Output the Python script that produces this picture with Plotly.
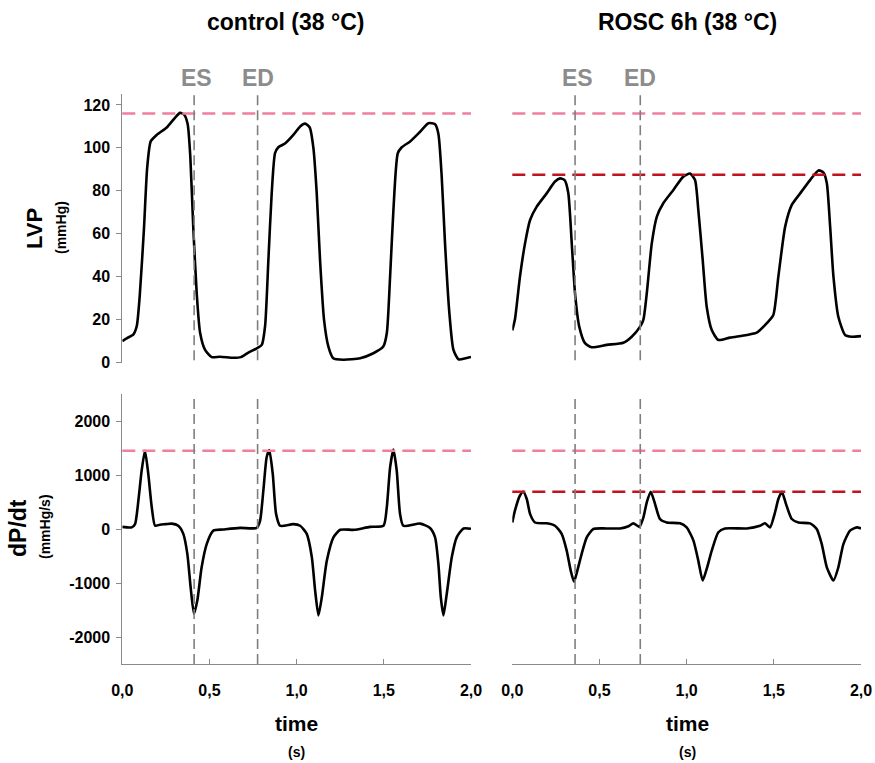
import plotly.graph_objects as go

W, H = 875, 763

# ---------------- data ----------------
ctrl_lvp_t = [0, 0.03, 0.063, 0.083, 0.1, 0.124, 0.143, 0.163, 0.197, 0.255, 0.302, 0.331, 0.355, 0.375,
              0.39, 0.407, 0.427, 0.446, 0.474, 0.513, 0.56, 0.637, 0.68, 0.723, 0.771, 0.8, 0.819, 0.838,
              0.857, 0.876, 0.895, 0.933, 0.981, 1.02, 1.048, 1.075, 1.096, 1.115, 1.134, 1.157, 1.182,
              1.21, 1.268, 1.364, 1.44, 1.497, 1.517, 1.536, 1.555, 1.58, 1.603, 1.651, 1.708, 1.756,
              1.794, 1.813, 1.832, 1.851, 1.876, 1.899, 1.928, 1.97, 2.0]
ctrl_lvp_v = [10, 11.5, 13, 17, 31, 62, 91, 103, 106, 109.5, 114, 116.3, 115.5, 111,
              96, 63, 32, 14, 6, 2.5, 2.7, 2.2, 2.5, 4.6, 6.6, 8.2, 17, 48,
              79, 97.5, 100.3, 102, 106, 110, 111.3, 109.5, 100, 79, 48, 20, 7.4,
              2, 1.3, 2, 4.3, 7.4, 13.6, 40, 71, 97.5, 100.3, 103, 107.5, 111.5,
              111, 106.5, 86.6, 55.5, 23, 6, 1.5, 2, 2.6]

rosc_lvp_t = [0, 0.015, 0.044, 0.073, 0.102, 0.14, 0.197, 0.245, 0.274, 0.3, 0.321, 0.341, 0.36, 0.384,
              0.417, 0.455, 0.542, 0.637, 0.685, 0.733, 0.752, 0.771, 0.8, 0.829, 0.866, 0.924, 0.981,
              1.02, 1.048, 1.067, 1.092, 1.115, 1.144, 1.182, 1.249, 1.345, 1.402, 1.46, 1.497, 1.526,
              1.565, 1.603, 1.651, 1.708, 1.756, 1.785, 1.804, 1.823, 1.842, 1.87, 1.909, 1.947, 2.0]
rosc_lvp_v = [15, 20, 40, 55.5, 66.4, 72.6, 78.8, 84.3, 85.8, 85, 79, 55.5, 32, 16.7,
              9, 7.1, 8.2, 9.2, 12, 16.7, 20, 32, 55.5, 68, 74.2, 80.4, 86.6,
              88, 85, 71, 47.8, 26, 15.1, 10.5, 11.6, 12.8, 13.9, 18.3, 22.1, 40,
              63.3, 73.4, 78.8, 85, 89.5, 88.5, 83.5, 63.3, 40, 21.3, 12.8, 12, 12.3]

ctrl_dpdt_t = [0, 0.054, 0.073, 0.092, 0.111, 0.13, 0.149, 0.169, 0.188, 0.216, 0.25, 0.283, 0.321,
               0.35, 0.373, 0.392, 0.411, 0.43, 0.455, 0.484, 0.522, 0.579, 0.675, 0.771, 0.79, 0.809,
               0.828, 0.843, 0.863, 0.882, 0.905, 0.98, 1.02, 1.058, 1.087, 1.106, 1.125, 1.144, 1.173,
               1.211, 1.25, 1.33, 1.42, 1.498, 1.517, 1.536, 1.555, 1.574, 1.593, 1.612, 1.708, 1.765,
               1.794, 1.813, 1.827, 1.842, 1.861, 1.89, 1.918, 1.957, 2.0]
ctrl_dpdt_v = [40, 30, 90, 520, 1080, 1450, 1020, 400, 60, 80, 90, 100, 60,
               -90, -460, -1080, -1570, -1330, -710, -280, -30, -10, 20, 20, 150, 710,
               1330, 1460, 1020, 280, 60, 90, 60, -90, -520, -1140, -1600, -1270, -590,
               -155, -15, -15, 40, 60, 400, 1140, 1470, 1080, 280, 60, 100, 20,
               -155, -650, -1270, -1600, -1200, -520, -155, 10, 5]

rosc_dpdt_t = [0, 0.015, 0.044, 0.063, 0.083, 0.102, 0.13, 0.197, 0.245, 0.283, 0.312, 0.335, 0.354,
               0.373, 0.398, 0.427, 0.465, 0.54, 0.618, 0.666, 0.694, 0.729, 0.752, 0.771, 0.794, 0.819,
               0.847, 0.886, 0.962, 1.0, 1.039, 1.067, 1.092, 1.115, 1.144, 1.182, 1.22, 1.345, 1.421,
               1.45, 1.478, 1.507, 1.526, 1.546, 1.57, 1.603, 1.641, 1.708, 1.746, 1.775, 1.804, 1.842,
               1.87, 1.899, 1.937, 1.976, 2.0]
rosc_dpdt_v = [120, 340, 620, 690, 555, 280, 120, 105, 60, -90, -400, -770, -975,
               -770, -460, -155, 0, 10, 10, 50, 105, 40, 215, 490, 690, 460,
               185, 120, 105, 30, -215, -590, -955, -740, -400, -60, 10, 10, 60,
               105, 30, 310, 555, 690, 460, 185, 120, 105, 0, -280, -710, -955,
               -710, -280, -30, 30, 10]

panel_titles = ["control (38 °C)", "ROSC 6h (38 °C)"]
es_times = [0.412, 0.36]
ed_times = [0.776, 0.734]
lvp_control_peak = 116
dpdt_control_peak = 1450
lvp_rosc_peak = 87.5
dpdt_rosc_peak = 690

x_tickvals = [0, 0.5, 1.0, 1.5, 2.0]
x_ticktext = ["0,0", "0,5", "1,0", "1,5", "2,0"]
lvp_tickvals = [0, 20, 40, 60, 80, 100, 120]
lvp_ticktext = ["0", "20", "40", "60", "80", "100", "120"]
dpdt_tickvals = [-2000, -1000, 0, 1000, 2000]
dpdt_ticktext = ["-2000", "-1000", "0", "1000", "2000"]

# ---------------- layout geometry ----------------
def px_x(p):
    return p / W

def px_y(p):
    return 1 - p / H

xdomL = [px_x(122.3), px_x(471)]
xdomR = [px_x(512.3), px_x(861)]
ydomTop = [px_y(362.5), px_y(94.2)]
ydomBot = [px_y(664), px_y(394)]

FONT = "Liberation Sans, Arial, sans-serif"
AXIS_COLOR = "#8a8a8a"
PINK = "#ef7f9c"
DARKRED = "#c1121f"
GRAY = "#7f7f7f"

fig = go.Figure()

line_style = dict(color="black", width=2.6, shape="spline", smoothing=0.6)
fig.add_trace(go.Scatter(x=ctrl_lvp_t, y=ctrl_lvp_v, mode="lines", line=line_style, xaxis="x", yaxis="y", showlegend=False))
fig.add_trace(go.Scatter(x=rosc_lvp_t, y=rosc_lvp_v, mode="lines", line=line_style, xaxis="x2", yaxis="y2", showlegend=False))
fig.add_trace(go.Scatter(x=ctrl_dpdt_t, y=ctrl_dpdt_v, mode="lines", line=line_style, xaxis="x3", yaxis="y3", showlegend=False))
fig.add_trace(go.Scatter(x=rosc_dpdt_t, y=rosc_dpdt_v, mode="lines", line=line_style, xaxis="x4", yaxis="y4", showlegend=False))

tickfont = dict(family=FONT, size=16, color="black", weight="bold")

hidden_x = dict(range=[0, 2], visible=False, automargin=False)
hidden_y = dict(visible=False, automargin=False)

xbottom = dict(range=[0, 2], showline=True, linecolor=AXIS_COLOR, linewidth=1, ticks="inside",
               ticklen=5, tickcolor=AXIS_COLOR, tickvals=x_tickvals, ticktext=x_ticktext,
               tickfont=tickfont, showgrid=False, zeroline=False, ticklabelstandoff=12, automargin=False)
yleft = dict(showline=True, linecolor=AXIS_COLOR, linewidth=1, ticks="outside", ticklen=5,
             tickcolor=AXIS_COLOR, tickfont=tickfont, showgrid=False, zeroline=False,
             ticklabelstandoff=3, automargin=False)

fig.update_layout(
    width=W, height=H,
    margin=dict(l=0, r=0, t=0, b=0, autoexpand=False),
    paper_bgcolor="white", plot_bgcolor="rgba(0,0,0,0)",
    xaxis=dict(domain=xdomL, anchor="y", **hidden_x),
    yaxis=dict(domain=ydomTop, anchor="x", range=[0, 125], tickvals=lvp_tickvals, ticktext=lvp_ticktext, **yleft),
    xaxis2=dict(domain=xdomR, anchor="y2", **hidden_x),
    yaxis2=dict(domain=ydomTop, anchor="x2", range=[0, 125], **hidden_y),
    xaxis3=dict(domain=xdomL, anchor="y3", **xbottom),
    yaxis3=dict(domain=ydomBot, anchor="x3", range=[-2500, 2500], tickvals=dpdt_tickvals, ticktext=dpdt_ticktext, **yleft),
    xaxis4=dict(domain=xdomR, anchor="y4", **xbottom),
    yaxis4=dict(domain=ydomBot, anchor="x4", range=[-2500, 2500], **hidden_y),
)

shapes = []
# horizontal reference lines
hdash = "13px,7px"
for xa, ya, val, col in [("x", "y", lvp_control_peak, PINK), ("x2", "y2", lvp_control_peak, PINK),
                         ("x2", "y2", lvp_rosc_peak, DARKRED),
                         ("x3", "y3", dpdt_control_peak, PINK), ("x4", "y4", dpdt_control_peak, PINK),
                         ("x4", "y4", dpdt_rosc_peak, DARKRED)]:
    shapes.append(dict(type="line", xref=f"{xa} domain", yref=ya, x0=0, x1=1, y0=val, y1=val,
                       line=dict(color=col, width=2.6, dash=hdash), layer="above"))
# vertical ES / ED lines
vdash = "10px,5px"
for col_i, (xa_top, xa_bot, ya_top, ya_bot) in enumerate([("x", "x3", "y", "y3"), ("x2", "x4", "y2", "y4")]):
    for tv in (es_times[col_i], ed_times[col_i]):
        shapes.append(dict(type="line", xref=xa_top, yref=f"{ya_top} domain", x0=tv, x1=tv, y0=0.008, y1=1.01,
                           line=dict(color=GRAY, width=1.6, dash=vdash), layer="above"))
        shapes.append(dict(type="line", xref=xa_bot, yref=f"{ya_bot} domain", x0=tv, x1=tv, y0=0, y1=1,
                           line=dict(color=GRAY, width=1.6, dash=vdash), layer="above"))
fig.update_layout(shapes=shapes)

ann = []
bold = lambda s, c="black": dict(family=FONT, size=s, color=c, weight="bold")
# panel titles
ann.append(dict(text=panel_titles[0], x=px_x(285), y=px_y(22), xref="paper", yref="paper",
                showarrow=False, font=bold(23), xanchor="center", yanchor="middle"))
ann.append(dict(text=panel_titles[1], x=px_x(687), y=px_y(22), xref="paper", yref="paper",
                showarrow=False, font=bold(23), xanchor="center", yanchor="middle"))
# ES / ED labels
for col_i, xa in enumerate(["x", "x2"]):
    ann.append(dict(text="ES", x=es_times[col_i], y=px_y(78), xref=xa, yref="paper", showarrow=False,
                    font=bold(23, "#8c8c8c"), xanchor="center", yanchor="middle", xshift=2))
    ann.append(dict(text="ED", x=ed_times[col_i], y=px_y(78), xref=xa, yref="paper", showarrow=False,
                    font=bold(23, "#8c8c8c"), xanchor="center", yanchor="middle"))
# y-axis titles
ann.append(dict(text="LVP", x=px_x(34), y=px_y(229), xref="paper", yref="paper", showarrow=False,
                font=bold(22), textangle=-90, xanchor="center", yanchor="middle"))
ann.append(dict(text="(mmHg)", x=px_x(61), y=px_y(228), xref="paper", yref="paper", showarrow=False,
                font=bold(14), textangle=-90, xanchor="center", yanchor="middle"))
ann.append(dict(text="dP/dt", x=px_x(18), y=px_y(528), xref="paper", yref="paper", showarrow=False,
                font=bold(23), textangle=-90, xanchor="center", yanchor="middle"))
ann.append(dict(text="(mmHg/s)", x=px_x(45), y=px_y(527), xref="paper", yref="paper", showarrow=False,
                font=bold(14), textangle=-90, xanchor="center", yanchor="middle"))
# x-axis titles
for cx in (296.5, 687):
    ann.append(dict(text="time", x=px_x(cx), y=px_y(723), xref="paper", yref="paper", showarrow=False,
                    font=bold(21), xanchor="center", yanchor="middle"))
    ann.append(dict(text="(s)", x=px_x(cx), y=px_y(752), xref="paper", yref="paper", showarrow=False,
                    font=bold(14), xanchor="center", yanchor="middle"))
fig.update_layout(annotations=ann)

fig.write_html("out.html",
               config={"displayModeBar": False, "staticPlot": True},
               post_script="document.body.style.margin='0';document.body.style.padding='0';"
                           "document.body.style.overflow='hidden';")
